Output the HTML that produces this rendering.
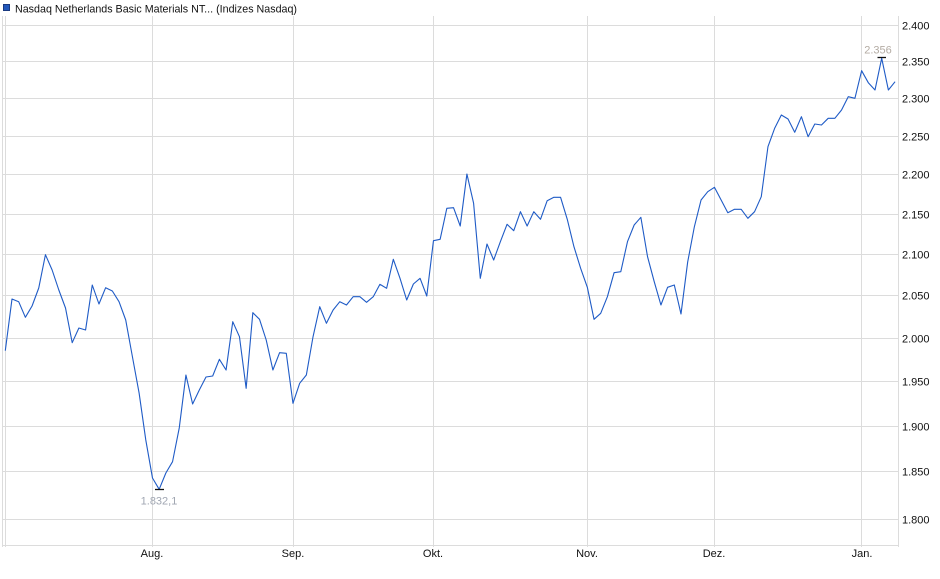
<!DOCTYPE html>
<html>
<head>
<meta charset="utf-8">
<style>
  html, body { margin: 0; padding: 0; background: #ffffff; }
  svg { display: block; }
  text { font-family: "Liberation Sans", Arial, sans-serif; }
</style>
</head>
<body>
<svg width="940" height="579" viewBox="0 0 940 579" xmlns="http://www.w3.org/2000/svg">
  <rect x="0" y="0" width="940" height="579" fill="#ffffff"/>

  <!-- horizontal gridlines (log scale) -->
  <g stroke="#dcdcdc" stroke-width="1" shape-rendering="crispEdges">
    <line x1="2" y1="25.5" x2="898" y2="25.5"/>
    <line x1="2" y1="61.5" x2="898" y2="61.5"/>
    <line x1="2" y1="98.5" x2="898" y2="98.5"/>
    <line x1="2" y1="136.5" x2="898" y2="136.5"/>
    <line x1="2" y1="174.5" x2="898" y2="174.5"/>
    <line x1="2" y1="214.5" x2="898" y2="214.5"/>
    <line x1="2" y1="254.5" x2="898" y2="254.5"/>
    <line x1="2" y1="295.5" x2="898" y2="295.5"/>
    <line x1="2" y1="338.5" x2="898" y2="338.5"/>
    <line x1="2" y1="381.5" x2="898" y2="381.5"/>
    <line x1="2" y1="426.5" x2="898" y2="426.5"/>
    <line x1="2" y1="471.5" x2="898" y2="471.5"/>
    <line x1="2" y1="519.5" x2="898" y2="519.5"/>
    <!-- bottom border -->
    <line x1="2" y1="545.5" x2="898" y2="545.5"/>
  </g>

  <!-- vertical gridlines / borders -->
  <g stroke="#dcdcdc" stroke-width="1" shape-rendering="crispEdges">
    <line x1="2.5" y1="16" x2="2.5" y2="547"/>
    <line x1="5.5" y1="16" x2="5.5" y2="547"/>
    <line x1="152.5" y1="16" x2="152.5" y2="547"/>
    <line x1="293.5" y1="16" x2="293.5" y2="547"/>
    <line x1="433.5" y1="16" x2="433.5" y2="547"/>
    <line x1="587.5" y1="16" x2="587.5" y2="547"/>
    <line x1="714.5" y1="16" x2="714.5" y2="547"/>
    <line x1="861.5" y1="16" x2="861.5" y2="547"/>
    <line x1="898.5" y1="16" x2="898.5" y2="547"/>
  </g>

  <!-- title -->
  <rect x="3.5" y="4.5" width="6" height="6" fill="#2258bb" stroke="#1a3a80" stroke-width="1"/>
  <text x="15" y="12.5" font-size="11" fill="#111" textLength="282" lengthAdjust="spacingAndGlyphs">Nasdaq Netherlands Basic Materials NT... (Indizes Nasdaq)</text>

  <!-- y-axis labels -->
  <g font-size="11" fill="#111">
    <text x="902" y="29.5">2.400</text>
    <text x="902" y="65.5">2.350</text>
    <text x="902" y="102.5">2.300</text>
    <text x="902" y="140.5">2.250</text>
    <text x="902" y="178.5">2.200</text>
    <text x="902" y="218.5">2.150</text>
    <text x="902" y="258.5">2.100</text>
    <text x="902" y="299.5">2.050</text>
    <text x="902" y="342.5">2.000</text>
    <text x="902" y="385.5">1.950</text>
    <text x="902" y="430.5">1.900</text>
    <text x="902" y="475.5">1.850</text>
    <text x="902" y="523.5">1.800</text>
  </g>

  <!-- x-axis labels -->
  <g font-size="11" fill="#111" text-anchor="middle">
    <text x="152" y="557">Aug.</text>
    <text x="293" y="557">Sep.</text>
    <text x="433" y="557">Okt.</text>
    <text x="587" y="557">Nov.</text>
    <text x="714" y="557">Dez.</text>
    <text x="862" y="557">Jan.</text>
  </g>

  <!-- data series -->
  <g transform="translate(5.3,0) scale(6.69,1)">
    <polyline fill="none" stroke="#1f5bc6" stroke-width="1.1" stroke-linejoin="round" vector-effect="non-scaling-stroke"
      points="0,350.7 1,299 2,301.7 3,317.3 4,306 5,288 6,254.7 7,270 8,290 9,308 10,342.7 11,328 12,330 13,285 14,304 15,287.7 16,291 17,301.7 18,320 19,356.7 20,393 21,440 22,478 23,489.3 24,473 25,461.7 26,428 27,375 28,404 29,390 30,377 31,376 32,359.3 33,370 34,321.7 35,336.7 36,388.3 37,312.7 38,319.3 39,340 40,370 41,352.7 42,353.3 43,403.3 44,383.3 45,375 46,336.7 47,306.7 48,323.3 49,310 50,301.7 51,305 52,296.7 53,296.7 54,302.3 55,296.7 56,284.3 57,288.3 58,259.3 59,278.3 60,300 61,284 62,278.3 63,296 64,240.7 65,239.3 66,208.3 67,207.7 68,226 69,174 70,203.3 71,278.3 72,244 73,260 74,241.7 75,224.3 76,230.7 77,211.7 78,226 79,211.7 80,219.3 81,200.7 82,197.3 83,197.3 84,219.3 85,246.7 86,268.3 87,287.3 88,319.3 89,313.3 90,296.7 91,272.7 92,271.7 93,241.7 94,225 95,217.3 96,256.7 97,281.7 98,305 99,287.3 100,285 101,314 102,262 103,226.7 104,200 105,191.7 106,187.3 107,200 108,212.7 109,209.3 110,209.3 111,218.3 112,211.7 113,196.7 114,146.7 115,128.3 116,115 117,119 118,132.3 119,116.7 120,136.7 121,124 122,125 123,118.3 124,118.3 125,110 126,96.7 127,98.3 128,70.7 129,82.7 130,90 131,58.3 132,90 133,81.7"/>
  </g>

  <!-- min marker -->
  <line x1="155" y1="489.5" x2="164" y2="489.5" stroke="#111" stroke-width="1.3"/>
  <text x="159" y="504.5" font-size="11" fill="#a0a6b2" text-anchor="middle">1.832,1</text>

  <!-- max marker -->
  <line x1="877.5" y1="57.5" x2="886" y2="57.5" stroke="#111" stroke-width="1.3"/>
  <text x="878" y="53.5" font-size="11" fill="#b4aca4" text-anchor="middle">2.356</text>
</svg>
</body>
</html>
